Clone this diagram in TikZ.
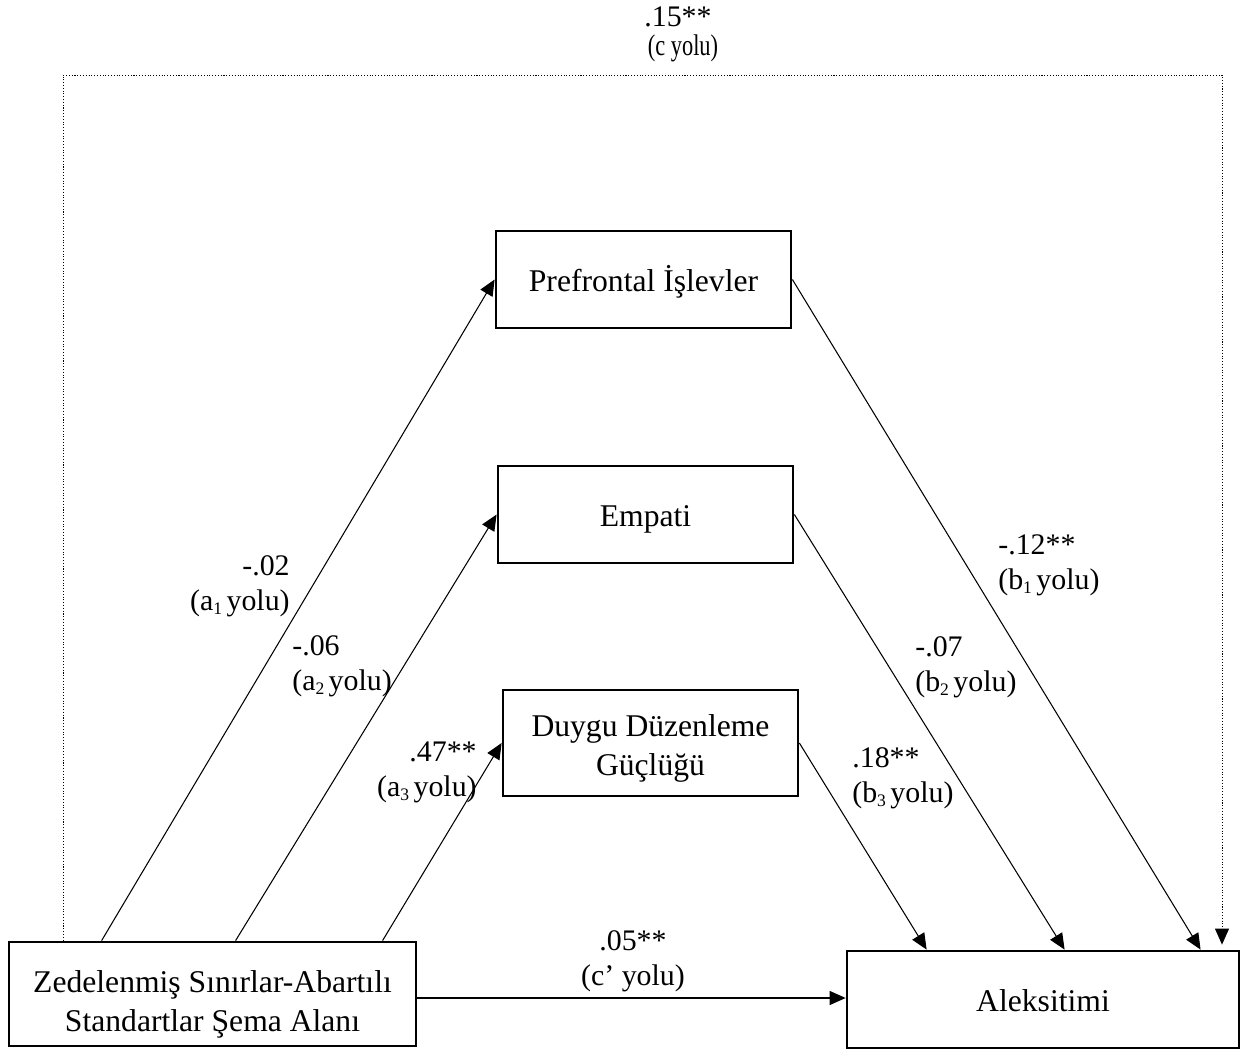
\documentclass[tikz,border=0pt]{standalone}
\usepackage{fontspec}
\setmainfont{Liberation Serif}
\usetikzlibrary{arrows.meta}
\newcommand{\indis}[1]{\raisebox{-0.3ex}{\fontsize{10}{10}\selectfont #1 }}

\begin{document}
\begin{tikzpicture}[x=0.02cm, y=-0.02cm,
  kutu/.style = {draw, line width=1.6pt, inner sep=0pt, align=center,
                 font=\fontsize{18}{22}\selectfont},
  yol/.style = {line width=0.6pt, -{Triangle[length=0.32cm, width=0.28cm]}},
  etiket/.style = {inner sep=0pt, font=\fontsize{17}{20}\selectfont}]
\useasboundingbox (0,0) rectangle (1241,1050);

% kutular
\node[kutu, minimum width=5.9cm, minimum height=1.94cm, text height=17pt] (pref) at (643.5,279.5) {Prefrontal İşlevler};
\node[kutu, minimum width=5.9cm, minimum height=1.94cm, text height=17pt] (emp) at (645.5,514.5) {Empati};
\node[kutu, minimum width=5.9cm, minimum height=2.12cm, text height=41pt] (duygu) at (650.5,743) {Duygu Düzenleme\\Güçlüğü};
\node[kutu, minimum width=8.14cm, minimum height=2.08cm, text height=46pt] (zed) at (212.5,994) {Zedelenmiş Sınırlar-Abartılı\\Standartlar Şema Alanı};
\node[kutu, minimum width=7.84cm, minimum height=1.94cm, text height=14pt] (alek) at (1043,999.5) {Aleksitimi};

% a yollari
\draw[yol] ([xshift=1.88cm]zed.north west) -- (pref.west);
\draw[yol] ([xshift=4.56cm]zed.north west) -- (emp.west);
\draw[yol] ([xshift=7.5cm]zed.north west) -- (duygu.west);
% b yollari
\draw[yol] (pref.east) -- ([xshift=7.1cm]alek.north west);
\draw[yol] (emp.east) -- ([xshift=4.38cm]alek.north west);
\draw[yol] (duygu.east) -- ([xshift=1.62cm]alek.north west);
% c' yolu
\draw[yol] (zed.east |- 0,998) -- (alek.west |- 0,998);
% c yolu
\coordinate (c1) at (63,75);
\coordinate (c2) at (1222,75);
\draw[yol, densely dotted, line width=0.5pt, shorten >=0.1cm] (zed.north -| c1) -- (c1) -- (c2) -- (c2 |- alek.north);

% etiketler
\node[etiket, align=right, anchor=east] (a1) at (290,586) {-.02\\(a\indis{1}yolu)};
\node[etiket, align=left, anchor=west] (a2) at (292,666) {-.06\\(a\indis{2}yolu)};
\node[etiket, align=right, anchor=east] (a3) at (477,772) {.47**\\(a\indis{3}yolu)};
\node[etiket, align=left, anchor=west] (b1) at (998,565) {-.12**\\(b\indis{1}yolu)};
\node[etiket, align=left, anchor=west] (b2) at (915,667) {-.07\\(b\indis{2}yolu)};
\node[etiket, align=left, anchor=west] (b3) at (852,778) {.18**\\(b\indis{3}yolu)};
\node[etiket, align=center] (cc) at (633,961) {.05**\\(c’ yolu)};
\node[etiket, align=center, anchor=north, font=\fontsize{17}{17}\selectfont] (c) at (678,6) {.15**\\\hspace*{0.2cm}\scalebox{0.75}[1]{(c yolu)}};
\end{tikzpicture}
\end{document}
